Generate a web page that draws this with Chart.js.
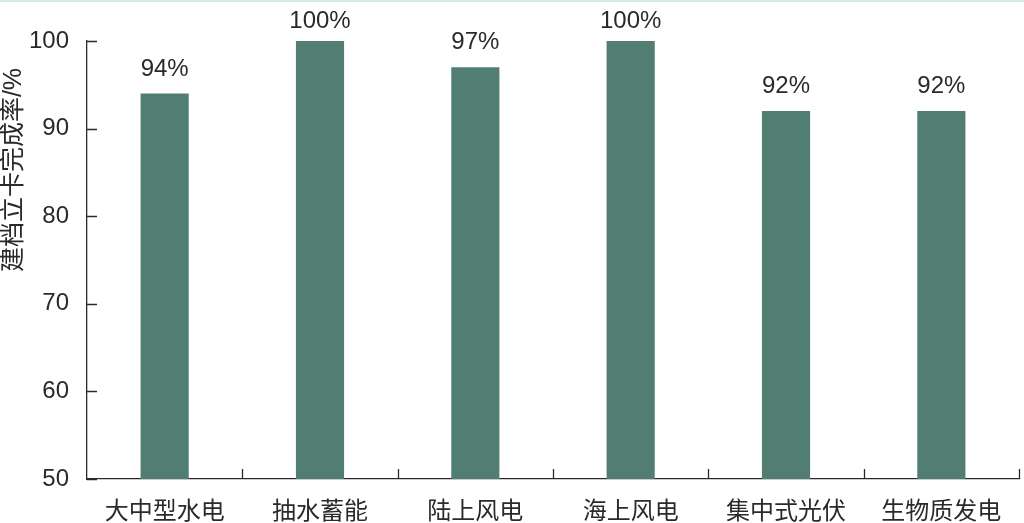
<!DOCTYPE html>
<html>
<head>
<meta charset="utf-8">
<script src="https://cdn.jsdelivr.net/npm/chart.js@4/dist/chart.umd.min.js"></script>
<style>
  html, body { margin: 0; padding: 0; background: #fff; }
  #wrap { width: 1024px; height: 523px; }
</style>
</head>
<body>
<div id="wrap"><canvas id="myChart" width="1024" height="523"></canvas></div>
<script>
// data
const categories = ["大中型水电", "抽水蓄能", "陆上风电", "海上风电", "集中式光伏", "生物质发电"];
const rates = [94, 100, 97, 100, 92, 92];
const yTicks = [50, 60, 70, 80, 90, 100];
const yTitle = "建档立卡完成率/%";

const FONT = '"Liberation Sans", "Noto Sans CJK SC", sans-serif';
const INK = '#2a2a2a';
const BAR = '#527d72';

// inward ticks, value labels, rotated axis title, faint top rule
const extras = {
    id: 'extras',
    afterDraw(chart) {
        const ctx = chart.ctx;
        const area = chart.chartArea;
        const x = chart.scales.x;
        const y = chart.scales.y;
        ctx.save();

        // faint rule at the very top
        ctx.strokeStyle = '#d8e8ec';
        ctx.lineWidth = 2;
        ctx.beginPath();
        ctx.moveTo(0, 1);
        ctx.lineTo(chart.width, 1);
        ctx.stroke();

        // tick marks pointing into the plot
        ctx.strokeStyle = INK;
        ctx.lineWidth = 1.3;
        ctx.beginPath();
        yTicks.forEach(v => {
            const py = Math.round(y.getPixelForValue(v)) + 0.5;
            ctx.moveTo(area.left, py);
            ctx.lineTo(area.left + 10, py);
        });
        const half = (x.getPixelForValue(1) - x.getPixelForValue(0)) / 2;
        categories.forEach((c, i) => {
            const px = Math.round(x.getPixelForValue(i) + half) + 0.5;
            ctx.moveTo(px, area.bottom);
            ctx.lineTo(px, area.bottom - 10);
        });
        ctx.stroke();

        // value labels above bars
        ctx.fillStyle = INK;
        ctx.font = '24px ' + FONT;
        ctx.textAlign = 'center';
        ctx.textBaseline = 'alphabetic';
        chart.getDatasetMeta(0).data.forEach((bar, i) => {
            const ty = Math.max(bar.y - 18, 28);
            ctx.fillText(rates[i] + '%', bar.x, ty);
        });

        // y axis title
        ctx.translate(14, 170);
        ctx.rotate(-Math.PI / 2);
        ctx.textBaseline = 'middle';
        ctx.font = '25px ' + FONT;
        ctx.fillText(yTitle, 0, 0);
        ctx.restore();
    }
};

new Chart(document.getElementById('myChart'), {
    type: 'bar',
    data: {
        labels: categories,
        datasets: [{
            data: rates,
            backgroundColor: BAR,
            borderWidth: 0,
            categoryPercentage: 1,
            barPercentage: 0.31
        }]
    },
    options: {
        responsive: false,
        animation: false,
        devicePixelRatio: 1,
        layout: { padding: { top: 41, right: 5, left: 0, bottom: 0 } },
        plugins: {
            legend: { display: false },
            tooltip: { enabled: false }
        },
        scales: {
            x: {
                grid: { display: false },
                border: { display: true, color: INK, width: 1.3 },
                ticks: { color: INK, font: { family: FONT, size: 24 }, padding: 11 },
                afterFit(scale) { scale.height = 44; }
            },
            y: {
                min: 50,
                max: 100,
                grid: { display: false },
                border: { display: true, color: INK, width: 1.3 },
                ticks: {
                    stepSize: 10,
                    color: INK,
                    font: { family: FONT, size: 24 },
                    padding: 10
                },
                afterFit(scale) { scale.width = 87; }
            }
        }
    },
    plugins: [extras]
});
</script>
</body>
</html>
